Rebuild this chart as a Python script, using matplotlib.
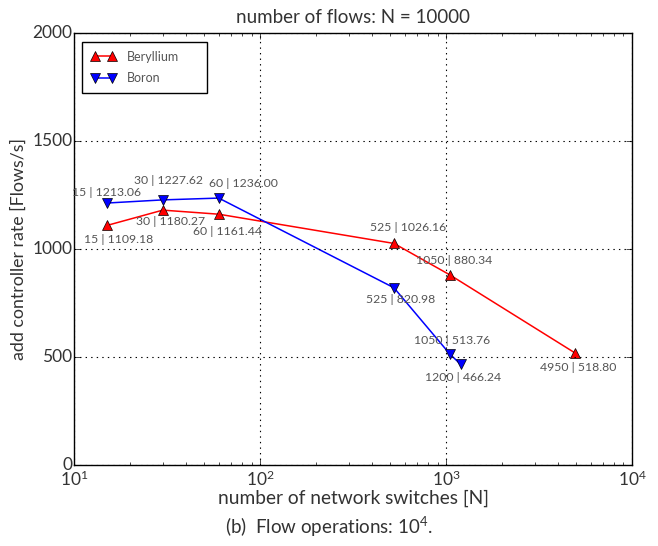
import matplotlib
matplotlib.use("Agg")
import matplotlib.pyplot as plt

plt.style.use("classic")
plt.rcParams["font.family"] = ["Lato", "DejaVu Sans"]
plt.rcParams["mathtext.fontset"] = "custom"
plt.rcParams["mathtext.rm"] = "Lato"

# data
be_switches = [15, 30, 60, 525, 1050, 4950]
be_rate = [1109.18, 1180.27, 1161.44, 1026.16, 880.34, 518.80]
bo_switches = [15, 30, 60, 525, 1050, 1200]
bo_rate = [1213.06, 1227.62, 1236.00, 820.98, 513.76, 466.24]

# label offsets in pixels (dx, dy) relative to each point
be_offsets = [(12, -14), (8, -11), (9, -17), (14, 16), (4, 14), (3, -14)]
bo_offsets = [(0, 11), (6, 19), (25, 15), (7, -12), (2, 14), (2, -13)]

fig = plt.figure(figsize=(6.58, 5.46), dpi=100, facecolor="white")
ax = fig.add_axes([0.1125, 0.148, 0.848, 0.7916])
ax.set_facecolor("white")

ax.plot(be_switches, be_rate, color="red", marker="^", markersize=7,
        markerfacecolor="red", markeredgecolor="black", linewidth=1.1,
        label="Beryllium")
ax.plot(bo_switches, bo_rate, color="blue", marker="v", markersize=7,
        markerfacecolor="blue", markeredgecolor="black", linewidth=1.1,
        label="Boron")

for xs, ys, offs in [(be_switches, be_rate, be_offsets),
                     (bo_switches, bo_rate, bo_offsets)]:
    for x, y, (dx, dy) in zip(xs, ys, offs):
        ax.annotate(f"{x} | {y:.2f}", (x, y), xytext=(dx, dy),
                    textcoords="offset pixels", ha="center", va="center",
                    fontsize=8.8, color="#555555")

ax.set_xscale("log")
ax.set_xlim(10, 10000)
ax.set_ylim(0, 2000)
ax.set_yticks([0, 500, 1000, 1500, 2000])
ax.grid(True, which="major", linestyle=":", color="black", linewidth=0.8)
ax.tick_params(which="both", direction="in", labelsize=12.5,
               labelcolor="#333333")
ax.tick_params(axis="y", pad=1)
ax.tick_params(axis="x", pad=3)

ax.set_xlabel("number of network switches [N]", fontsize=13.8,
              color="#333333", labelpad=1)
ax.set_ylabel("add controller rate [Flows/s]", fontsize=12.8,
              color="#333333", labelpad=4)
ax.set_title("number of flows: N = 10000", fontsize=13.5, color="#333333",
             y=1.008)

leg = ax.legend(loc="upper left", bbox_to_anchor=(0.0143, 0.979, 0.224, 0.0),
                mode="expand", numpoints=2, fontsize=9, frameon=True,
                borderaxespad=0.0, borderpad=0.7, labelspacing=0.75,
                handlelength=2.0, handletextpad=0.9)
leg.get_frame().set_edgecolor("black")
for t in leg.get_texts():
    t.set_color("#555555")

fig.text(0.5, 0.035, r"(b)  Flow operations: $10^4$.", ha="center",
         va="center", fontsize=13.5, color="#333333")

fig.savefig("out.png", dpi=100, facecolor="white")
